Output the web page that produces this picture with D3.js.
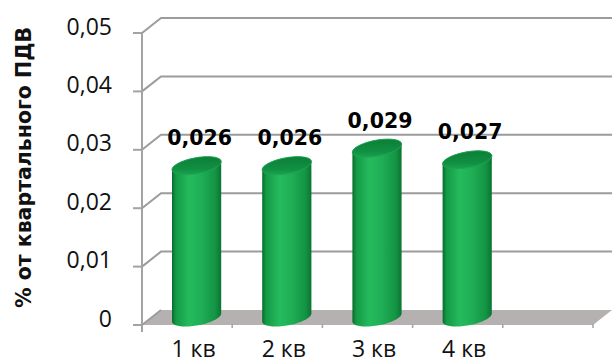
<!DOCTYPE html>
<html>
<head>
<meta charset="utf-8">
<script src="https://cdn.jsdelivr.net/npm/d3@7"></script>
<style>
  html, body { margin: 0; padding: 0; background: #ffffff; }
  svg { display: block; }
</style>
</head>
<body>
<script>
// Quarterly share of the allowed emission limit (ПДВ)
const categories = ["1 кв", "2 кв", "3 кв", "4 кв", ""];
const values = [0.026, 0.026, 0.029, 0.027, null];
const yTicks = [0, 0.01, 0.02, 0.03, 0.04, 0.05];
const yTitle = "% от квартального ПДВ";

const W = 612, H = 363;
const svg = d3.select("body").append("svg").attr("width", W).attr("height", H);

// front plane of the 3D box, and the depth offset towards the back wall
const plot = { left: 142, right: 593, top: 33, bottom: 325 };
const depth = { dx: 19, dy: -15 };

const x = d3.scaleBand().domain(d3.range(categories.length)).range([plot.left, plot.right]).padding(0);
const y = d3.scaleLinear().domain([0, 0.05]).range([plot.bottom, plot.top]);

const comma = s => s.replace(".", ",");
const fmtTick = v => v === 0 ? "0" : comma(d3.format(".2f")(v));
const fmtVal = v => comma(d3.format(".3f")(v));

const defs = svg.append("defs");
const bodyGrad = defs.append("linearGradient").attr("id", "cylBody").attr("x1", 0).attr("x2", 1).attr("y1", 0).attr("y2", 0);
[[0, "#0a6a2c"], [0.08, "#139a45"], [0.35, "#25bb5d"], [0.6, "#1fae55"], [0.88, "#139444"], [1, "#0b7332"]]
  .forEach(([o, c]) => bodyGrad.append("stop").attr("offset", o).attr("stop-color", c));
const topGrad = defs.append("linearGradient").attr("id", "cylTop").attr("x1", 0).attr("x2", 0).attr("y1", 0).attr("y2", 1);
[[0, "#0c7e37"], [0.7, "#119043"], [1, "#1aa350"]]
  .forEach(([o, c]) => topGrad.append("stop").attr("offset", o).attr("stop-color", c));

const gridColor = "#9c9c9c";

// floor
svg.append("path")
  .attr("d", d3.line()([
    [x.range()[0], y(0)], [x.range()[1], y(0)],
    [x.range()[1] + depth.dx, y(0) + depth.dy], [x.range()[0] + depth.dx, y(0) + depth.dy]
  ]) + "Z")
  .attr("fill", "#b5b1b1");

// back-wall gridlines with their diagonal connectors to the front axis
const grid = svg.append("g").attr("fill", "none").attr("stroke", gridColor).attr("stroke-width", 2);
yTicks.filter(t => t > 0).forEach(t => {
  grid.append("path").attr("d", d3.line()([
    [plot.left, y(t)], [plot.left + depth.dx, y(t) + depth.dy], [W, y(t) + depth.dy]
  ]));
});
grid.append("path").attr("d", d3.line()([[plot.left, y(0)], [plot.left + depth.dx, y(0) + depth.dy]]));

// front value axis
const axisG = svg.append("g").attr("stroke", "#a3a3a3").attr("stroke-width", 2).attr("fill", "none");
axisG.append("line").attr("x1", plot.left).attr("x2", plot.left).attr("y1", y(0.05)).attr("y2", y(0) + 7);
yTicks.forEach(t => axisG.append("line").attr("x1", plot.left - 9).attr("x2", plot.left).attr("y1", y(t)).attr("y2", y(t)));
d3.range(1, categories.length + 1).forEach(i => {
  const xx = plot.left + i * x.bandwidth();
  axisG.append("line").attr("x1", xx).attr("x2", xx).attr("y1", y(0) - 1).attr("y2", y(0) + 3).attr("stroke-width", 1.5);
});

// tick labels, centred on mid-depth
svg.append("g").selectAll("text").data(yTicks).join("text")
  .attr("x", 112).attr("y", d => y(d) + depth.dy / 2)
  .attr("text-anchor", "end").attr("dominant-baseline", "central")
  .attr("font-family", "'Open Sans', 'Noto Sans', sans-serif").attr("font-size", 23)
  .attr("fill", "#111").text(fmtTick);

// axis title
svg.append("text")
  .attr("transform", `translate(31, ${(25 + 310) / 2}) rotate(-90)`)
  .attr("text-anchor", "middle")
  .attr("font-family", "'DejaVu Sans', Verdana, sans-serif").attr("font-weight", "bold").attr("font-size", 20.5)
  .attr("fill", "#111").text(yTitle);

// cylinders
const cyl = { rx: 22, hx: 11, hy: -9 };
const t1 = Math.atan2(cyl.hx, cyl.rx);
const ellPt = (cx, cy, t) => [cx + cyl.rx * Math.cos(t) + cyl.hx * Math.sin(t), cy + cyl.hy * Math.sin(t)];
const arc = (cx, cy, a, b, n = 40) => d3.range(n + 1).map(k => ellPt(cx, cy, a + (b - a) * k / n));

const data = values.map((v, i) => ({ v, i })).filter(d => d.v != null);
const bars = svg.append("g");
data.forEach(d => {
  const cx = x(d.i) + x.bandwidth() / 2 + depth.dx / 2;
  const cyTop = y(d.v) + depth.dy / 2;
  const cyBot = y(0) + depth.dy / 2;
  const outline = arc(cx, cyBot, t1 + Math.PI, t1 + 2 * Math.PI)
    .concat(arc(cx, cyTop, t1, t1 + Math.PI));
  bars.append("path").attr("d", d3.line()(outline) + "Z").attr("fill", "url(#cylBody)");
  bars.append("path").attr("d", d3.line()(arc(cx, cyTop, 0, 2 * Math.PI, 80)) + "Z")
    .attr("fill", "url(#cylTop)").attr("stroke", "#1ea553").attr("stroke-width", 1);
});

// value labels
svg.append("g").selectAll("text").data(data).join("text")
  .attr("x", d => x(d.i) + x.bandwidth() / 2 + depth.dx / 2 + 3)
  .attr("y", d => y(d.v) - 28)
  .attr("text-anchor", "middle")
  .attr("font-family", "'DejaVu Sans', Verdana, sans-serif").attr("font-weight", "bold").attr("font-size", 20.5)
  .attr("fill", "#000").text(d => fmtVal(d.v));

// category labels
svg.append("g").selectAll("text").data(categories.filter(c => c !== "")).join("text")
  .attr("x", (d, i) => x(i) + x.bandwidth() / 2 + depth.dx / 2 - 3)
  .attr("y", 357)
  .attr("text-anchor", "middle")
  .attr("font-family", "'Open Sans', 'Noto Sans', sans-serif").attr("font-size", 23)
  .attr("fill", "#111").text(d => d);
</script>
</body>
</html>
